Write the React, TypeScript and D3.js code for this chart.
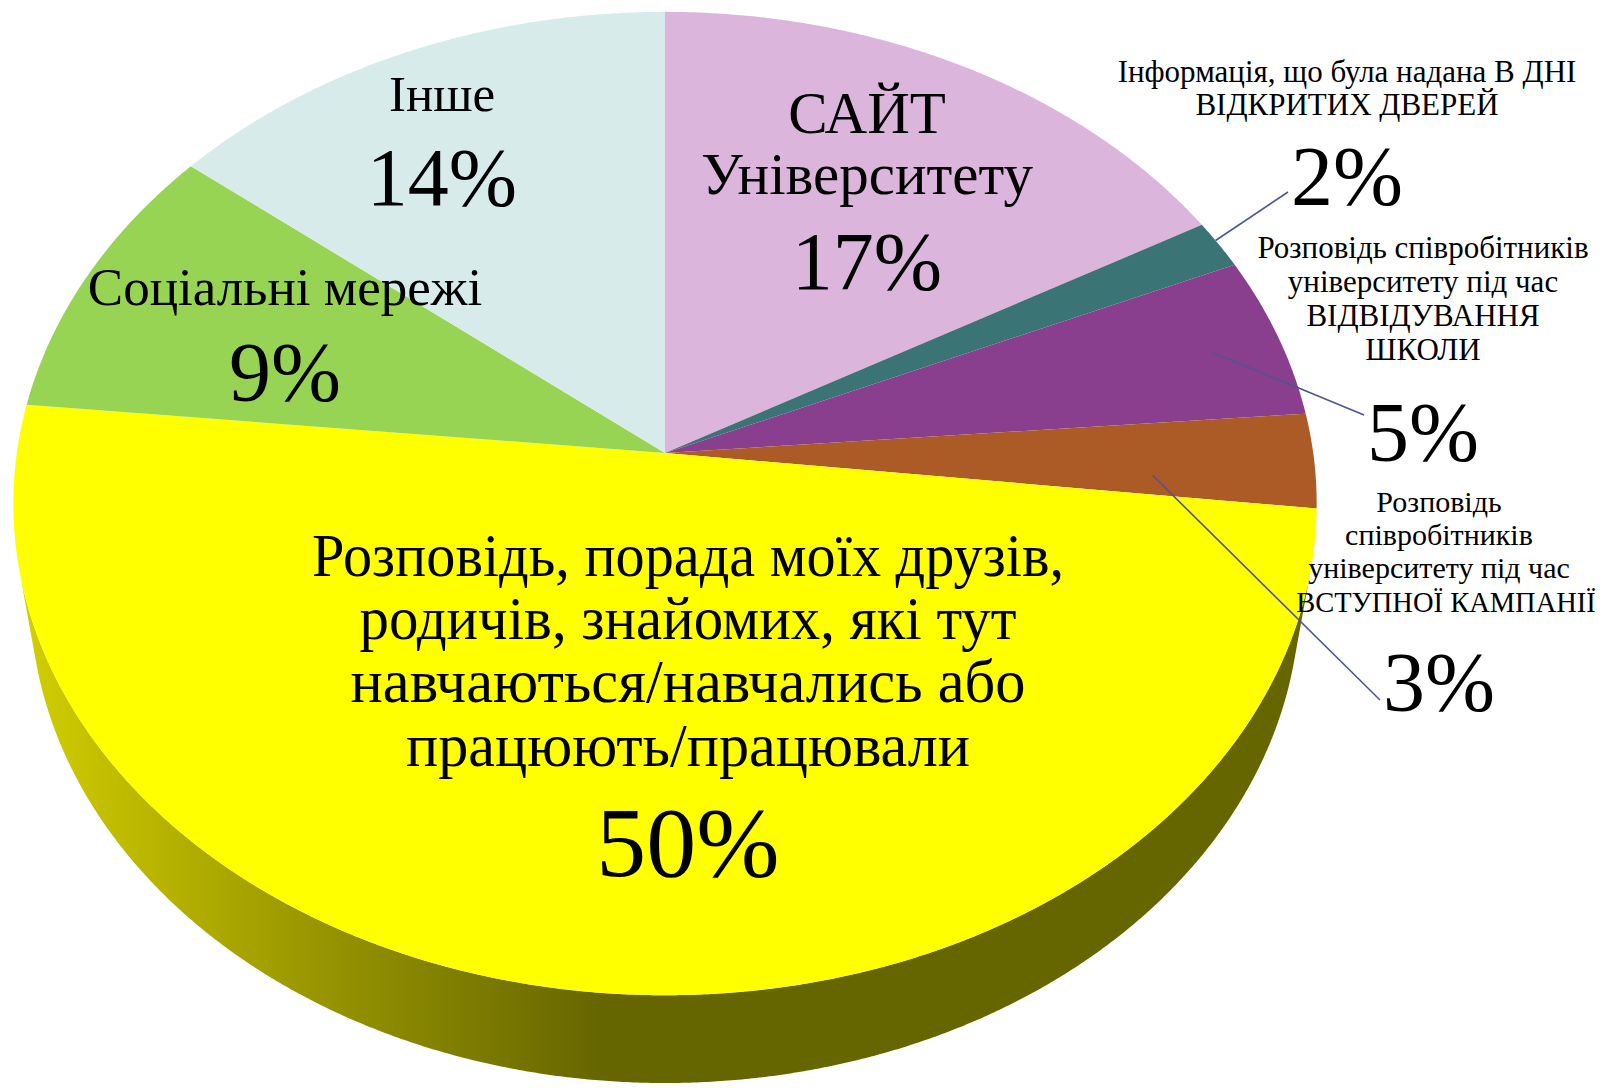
import React from "react";
import * as d3 from "d3";

const categories = [
  "САЙТ Університету",
  "Інформація, що була надана В ДНІ ВІДКРИТИХ ДВЕРЕЙ",
  "Розповідь співробітників університету під час ВІДВІДУВАННЯ ШКОЛИ",
  "Розповідь співробітників університету під час ВСТУПНОЇ КАМПАНІЇ",
  "Розповідь, порада моїх друзів, родичів, знайомих, які тут навчаються/навчались або працюють/працювали",
  "Соціальні мережі",
  "Інше",
];
const values = [16.8, 1.6, 5.3, 3.1, 49.8, 9.2, 14.2];
const percentLabels = ["17%", "2%", "5%", "3%", "50%", "9%", "14%"];
const colors = ["#dcb5dd", "#3b7474", "#8a3f8e", "#ad5b26", "#ffff00", "#98d453", "#d8ebeb"];

// label lines (text wrapping of category names)
const nameLines = [
  ["САЙТ", "Університету"],
  ["Інформація, що була надана В ДНІ", "ВІДКРИТИХ ДВЕРЕЙ"],
  ["Розповідь співробітників", "університету під час", "ВІДВІДУВАННЯ", "ШКОЛИ"],
  ["Розповідь", "співробітників", "університету під час", "ВСТУПНОЇ КАМПАНІЇ"],
  ["Розповідь, порада моїх друзів,", "родичів, знайомих, які тут", "навчаються/навчались або", "працюють/працювали"],
  ["Соціальні мережі"],
  ["Інше"],
];

// layout (positions / sizes)
const W = 1605, H = 1088;
const CX = 665, CY = 453, F = 4168, D = 6.43;
const SIN_E = 0.7505, COS_E = Math.sqrt(1 - SIN_E * SIN_E);
const THICK = 0.222;

type LabelLayout = {
  x: number; nameY: number[]; nameSize: number; pctY: number; pctSize: number;
  lineX?: number[]; lineSize?: (number | null)[]; widths?: number[];
  leader?: { r: number; dA: number; to: [number, number] };
};
const layout: LabelLayout[] = [
  { x: 867, nameY: [133, 194], nameSize: 59, pctY: 289, pctSize: 82 },
  { x: 1347, nameY: [82, 115], nameSize: 31, pctY: 205, pctSize: 84, leader: { r: 1.0, dA: -0.01, to: [1288, 192] } },
  { x: 1423, nameY: [258, 292, 326, 360], nameSize: 31, pctY: 461, pctSize: 84, leader: { r: 0.89, dA: 0.01, to: [1364, 415] } },
  { x: 1439, nameY: [512, 545, 578, 612], nameSize: 30, pctY: 711, pctSize: 84, lineX: [1439, 1439, 1439, 1446], lineSize: [null, null, null, 28.5], leader: { r: 0.75, dA: 0.045, to: [1380, 700] } },
  { x: 688, nameY: [576, 639, 702, 766], nameSize: 62, pctY: 876, pctSize: 100, widths: [752, 657, 675, 564] },
  { x: 285, nameY: [305], nameSize: 53, pctY: 401, pctSize: 84 },
  { x: 442, nameY: [111], nameSize: 51, pctY: 205, pctSize: 82 },
];

function proj(theta: number, r: number, w: number): [number, number] {
  const u = r * Math.sin(theta);
  const v = r * Math.cos(theta);
  const yc = v * SIN_E + w * COS_E;
  const depth = D + v * COS_E - w * SIN_E;
  return [CX + (F * u) / depth, CY - (F * yc) / depth];
}

function rimPoints(a0: number, a1: number, w: number): [number, number][] {
  const n = Math.max(2, Math.ceil(Math.abs(a1 - a0) / 0.005));
  const pts: [number, number][] = [];
  for (let i = 0; i <= n; i++) pts.push(proj(a0 + ((a1 - a0) * i) / n, 1, w));
  return pts;
}

export default function App() {
  const pie = d3.pie<number>().sort(null).value((d) => d).startAngle(0).endAngle(2 * Math.PI);
  const arcs = pie(values);
  const line = d3.line();

  const apex = proj(0, 0, 0);
  const slicePaths = arcs.map((a) => {
    const pts = [apex, ...rimPoints(a.startAngle, a.endAngle, 0)];
    return line(pts) + "Z";
  });

  // visible side wall (silhouette where 1 + D*cos(e)*cos(theta) = 0)
  const tS = Math.acos(-1 / (D * COS_E));
  const wallTop = rimPoints(tS, 2 * Math.PI - tS, 0);
  const wallBot = rimPoints(2 * Math.PI - tS, tS, -THICK);
  const wallPath = line([...wallTop, ...wallBot]) + "Z";

  const font = "'Liberation Serif', 'Times New Roman', serif";

  return (
    <svg width={W} height={H} style={{ position: "absolute", left: 0, top: 0, background: "#fff" }}>
      <defs>
        <linearGradient id="wallGrad" gradientUnits="userSpaceOnUse" x1={14} y1={0} x2={600} y2={0}>
          <stop offset="0" stopColor="#d4d000" />
          <stop offset="0.5" stopColor="#9a9700" />
          <stop offset="1" stopColor="#666600" />
        </linearGradient>
      </defs>
      <path d={wallPath} fill="url(#wallGrad)" />
      {slicePaths.map((d, i) => (
        <path key={i} d={d} fill={colors[i]} />
      ))}
      {arcs.map((a, i) => {
        const L = layout[i];
        if (!L.leader) return null;
        const mid = (a.startAngle + a.endAngle) / 2 + L.leader.dA;
        const p = proj(mid, L.leader.r, 0);
        return (
          <line key={"l" + i} x1={p[0]} y1={p[1]} x2={L.leader.to[0]} y2={L.leader.to[1]} stroke="#4e5592" strokeWidth={1.6} />
        );
      })}
      {categories.map((c, i) => {
        const L = layout[i];
        return (
          <g key={"t" + i} fontFamily={font} fill="#000" textAnchor="middle">
            {nameLines[i].map((ln, j) => {
              const tl = L.widths ? L.widths[j] : null;
              const fs = (L.lineSize && L.lineSize[j]) || L.nameSize;
              return (
                <text
                  key={j}
                  x={L.lineX ? L.lineX[j] : L.x}
                  y={L.nameY[j]}
                  fontSize={fs}
                  {...(tl ? { textLength: tl, lengthAdjust: "spacingAndGlyphs" } : {})}
                >
                  {ln}
                </text>
              );
            })}
            <text x={L.x} y={L.pctY} fontSize={L.pctSize}>
              {percentLabels[i]}
            </text>
          </g>
        );
      })}
    </svg>
  );
}
